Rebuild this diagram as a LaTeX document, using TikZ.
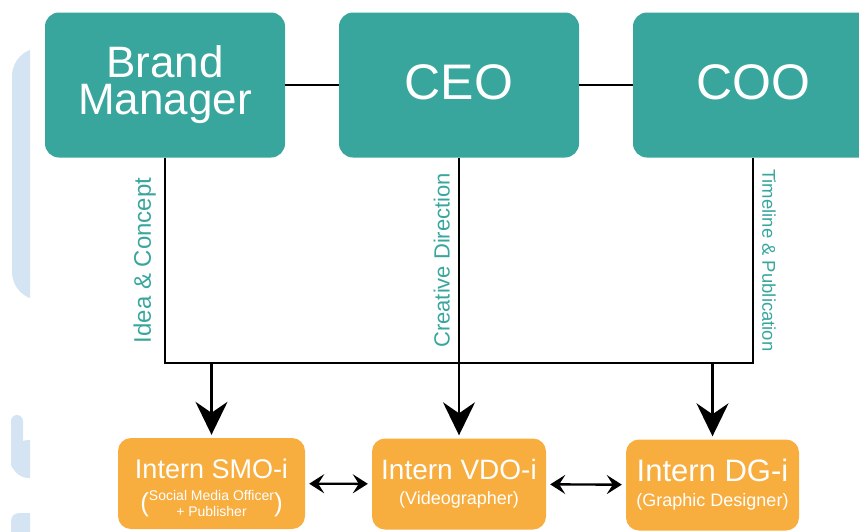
\documentclass[tikz,border=0pt]{standalone}
\usepackage{fontspec}
\setmainfont{Liberation Sans}
\usetikzlibrary{arrows.meta}
\definecolor{TealBox}{HTML}{39A69E}
\definecolor{OrangeBox}{HTML}{F8AD3F}
\definecolor{MarkBlue}{HTML}{D4E4F2}
\newcommand{\Px}[2]{\fontsize{#1}{#2}\selectfont}
\newcommand{\SubParen}[1]{$\vcenter{\hbox{\Px{26}{26}(}}\vcenter{\hbox{\Px{14}{16}\begin{tabular}{@{}c@{}}#1\end{tabular}}}\vcenter{\hbox{\Px{26}{26})}}$}
\tikzset{
  HeadStyle/.style = { fill=TealBox, text=white, rounded corners=14pt, inner sep=0pt,
    minimum width=240pt, minimum height=145pt, align=center, font=\Px{50}{36} },
  InternStyle/.style = { fill=OrangeBox, text=white, rounded corners=13pt, inner sep=0pt,
    minimum height=91pt, align=center, font=\Px{28}{24} },
  LabelStyle/.style = { text=TealBox, midway, anchor=south, inner sep=8pt },
  EdgeStyle/.style = { line width=2.2pt },
  ArrowStyle/.style = { line width=2.2pt, shorten >=3pt,
    -{Stealth[length=33pt,width=32pt,inset=11pt]} },
  SwapStyle/.style = { line width=2.4pt, shorten <=4pt, shorten >=4pt,
    {Stealth[length=15pt,width=19pt,inset=6pt]}-{Stealth[length=15pt,width=19pt,inset=6pt]} }
}

\begin{document}
\begin{tikzpicture}[x=1pt,y=-1pt]
  \useasboundingbox (0,0) rectangle (859,531);
  \clip (0,0) rectangle (859,531);
  % faded logo at the left edge
  \begin{scope}
    \clip (0,0) rectangle (30,531);
    \fill[MarkBlue, rounded corners=28pt] (12,48) rectangle (70,300);
    \fill[MarkBlue, rounded corners=6pt] (11,415) rectangle (23,470);
    \fill[MarkBlue, rounded corners=18pt] (11,440) rectangle (70,478);
    \fill[MarkBlue, rounded corners=8pt] (11,513) rectangle (70,560);
  \end{scope}
  \node[HeadStyle, font=\Px{44}{37}] (brand) at (165,85) {Brand\\Manager};
  \node[HeadStyle, text depth=6pt] (ceo) at (459,85) {CEO};
  \node[HeadStyle, text depth=6pt] (coo) at (753,85) {COO};
  \node[InternStyle, minimum width=187pt, font=\Px{27}{24}] (smo) at (211.5,483.5)
    {\rule{0pt}{32pt}Intern SMO-i\\[9pt]\SubParen{Social Media Officer\\+ Publisher}};
  \node[InternStyle, minimum width=174pt] (vdo) at (459,484)
    {Intern VDO-i\\[1pt]{\Px{18}{20}(Videographer)}};
  \node[InternStyle, minimum width=173pt, font=\Px{31}{24}] (dg) at (712.5,485)
    {Intern DG-i\\[1pt]{\Px{18}{20}(Graphic Designer)}};
  \coordinate (junction) at (0,363);
  \draw[EdgeStyle] (brand) -- (ceo) -- (coo);
  \draw[EdgeStyle] (brand) -- node[LabelStyle, rotate=90, font=\Px{24}{24}] {Idea \& Concept}
    (brand |- junction) -- (coo |- junction)
    -- node[LabelStyle, rotate=-90, font=\Px{18.5}{20}] {Timeline \& Publication} (coo);
  \draw[EdgeStyle] (ceo) -- node[LabelStyle, rotate=90, font=\Px{22}{22}] {Creative Direction}
    (ceo |- junction);
  \draw[ArrowStyle] (smo |- junction) -- (smo);
  \draw[ArrowStyle] (vdo |- junction) -- (vdo);
  \draw[ArrowStyle] (dg |- junction) -- (dg);
  \draw[SwapStyle] (smo) -- (vdo);
  \draw[SwapStyle] (vdo) -- (dg);
\end{tikzpicture}
\end{document}
